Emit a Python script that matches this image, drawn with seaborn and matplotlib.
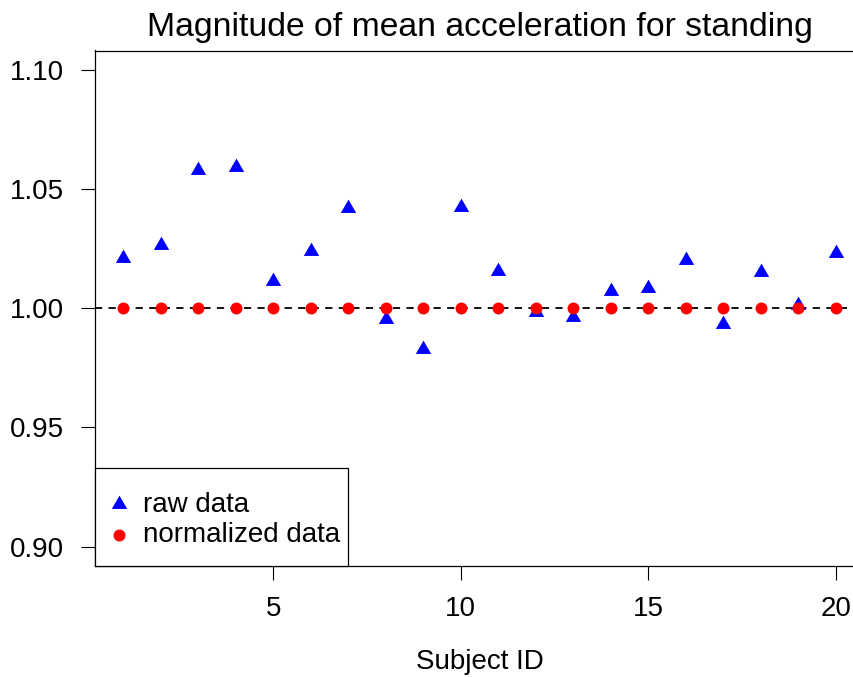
import numpy as np
import pandas as pd
import seaborn as sns
import matplotlib
matplotlib.use("Agg")
import matplotlib.pyplot as plt
from matplotlib.path import Path
from matplotlib.patches import Rectangle

# ---- data ----
subject_id = list(range(1, 21))
raw_data = [1.0210, 1.0264, 1.0580, 1.0590, 1.0112, 1.0241, 1.0418, 0.9954, 0.9829, 1.0425,
            1.0156, 0.9984, 0.9964, 1.0071, 1.0085, 1.0202, 0.9933, 1.0153, 1.0012, 1.0229]
normalized_data = [1.0] * 20
y_ticks = [0.90, 0.95, 1.00, 1.05, 1.10]
x_ticks = [5, 10, 15, 20]
title = "Magnitude of mean acceleration for standing"
x_label = "Subject ID"
legend_labels = ["raw data", "normalized data"]

sns.set_theme(style="white")
plt.rcParams['font.family'] = ['Liberation Sans', 'DejaVu Sans']

W, H = 854, 677
fig = plt.figure(figsize=(W / 100, H / 100), dpi=100)
left_px, right_px, top_px, bottom_px = 94.7, 864.5, 50.5, 565.7
ax = fig.add_axes([left_px / W, 1 - bottom_px / H, (right_px - left_px) / W, (bottom_px - top_px) / H])

df_raw = pd.DataFrame({"subject": subject_id, "value": raw_data})
df_norm = pd.DataFrame({"subject": subject_id, "value": normalized_data})

tri = Path([(0, 1), (-0.866, -0.5), (0.866, -0.5), (0, 1)],
           [Path.MOVETO, Path.LINETO, Path.LINETO, Path.CLOSEPOLY])
s_tri = 12.8 ** 2
s_dot = 8.6 ** 2

ax.axhline(1.0, color="black", lw=1.3, dashes=(4, 3.5), zorder=1)
sns.scatterplot(data=df_raw, x="subject", y="value", marker=tri, s=s_tri,
                color="#0000ff", linewidth=0, ax=ax, label=legend_labels[0], zorder=2)
sns.scatterplot(data=df_norm, x="subject", y="value", marker="o", s=s_dot,
                color="#ff0000", linewidth=0, ax=ax, label=legend_labels[1], zorder=3)

ax.set_xlim(0.24, 20.76)
ax.set_ylim(0.892, 1.108)
ax.set_xticks(x_ticks)
ax.set_xticklabels([str(t) for t in x_ticks])
ax.set_yticks(y_ticks)
ax.set_yticklabels([f"{t:.2f}" for t in y_ticks])
ax.tick_params(axis="both", which="major", direction="out", length=9.9, width=0.8,
               color="black", labelsize=20, pad=12, left=True, bottom=True, labelcolor="black")
for s in ax.spines.values():
    s.set_color("black")
    s.set_linewidth(0.9)
ax.grid(False)

ax.set_title(title, fontsize=24.3, pad=10.4, color="black")
ax.set_xlabel(x_label, fontsize=20, labelpad=19, color="black")
ax.set_ylabel("")

# legend frame (R-style, square, flush with bottom-left corner)
ax_w = right_px - left_px
ax_h = bottom_px - top_px
frame = Rectangle((0, 0), (348.3 - left_px) / ax_w, (bottom_px - 467.7) / ax_h,
                  transform=ax.transAxes, facecolor="white", edgecolor="black",
                  linewidth=0.9, zorder=5, clip_on=False)
ax.add_patch(frame)

leg = ax.legend(loc="lower left", bbox_to_anchor=((112 - left_px) / ax_w, (bottom_px - 547.8) / ax_h),
                borderaxespad=0, borderpad=0, fontsize=20, frameon=False,
                handlelength=0.5, handletextpad=0.615, labelspacing=0.15)
leg.set_zorder(6)
for h, s in zip(leg.legend_handles, [s_tri, s_dot]):
    h.set_sizes([s])
for t in leg.get_texts():
    t.set_color("black")

fig.savefig("out.png", dpi=100)
